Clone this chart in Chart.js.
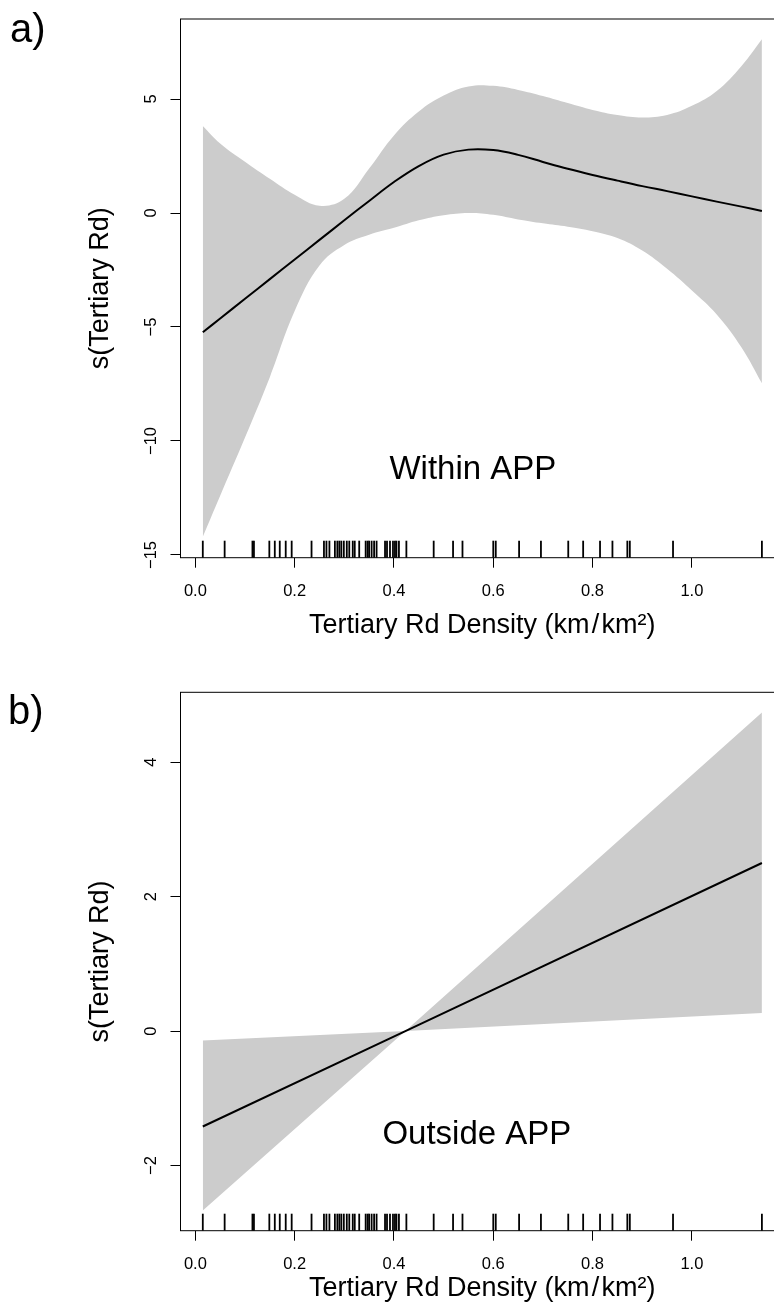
<!DOCTYPE html>
<html>
<head>
<meta charset="utf-8">
<script src="https://cdn.jsdelivr.net/npm/chart.js@4.4.0/dist/chart.umd.min.js"></script>
<style>
  html, body { margin: 0; padding: 0; background: #fff; overflow: hidden; }
  canvas { position: absolute; left: 0; }
  #chartA { top: 0; }
  #chartB { top: 673px; }
</style>
</head>
<body>
<canvas id="chartA" width="800" height="673"></canvas>
<canvas id="chartB" width="800" height="641"></canvas>
<script>
// rug: observed tertiary road densities (same sites in both panels)
const rugX = [0.015, 0.059, 0.115, 0.118, 0.149, 0.160, 0.170, 0.182, 0.194, 0.234,
  0.259, 0.264, 0.270, 0.281, 0.286, 0.290, 0.294, 0.299, 0.305, 0.310, 0.317, 0.321,
  0.330, 0.343, 0.347, 0.350, 0.355, 0.360, 0.365, 0.382, 0.386, 0.392, 0.398, 0.402,
  0.405, 0.410, 0.425, 0.480, 0.519, 0.538, 0.600, 0.605, 0.652, 0.696, 0.751, 0.781,
  0.815, 0.840, 0.870, 0.875, 0.962, 1.141];
const xTicks = [0, 0.2, 0.4, 0.6, 0.8, 1.0];
const xLimits = [-0.0299, 1.1855];

// a) Within APP
const gridA = [0.015, 0.05, 0.1, 0.15, 0.2, 0.25, 0.3, 0.35, 0.4, 0.45, 0.5, 0.55, 0.6,
  0.65, 0.7, 0.75, 0.8, 0.85, 0.9, 0.95, 1.0, 1.05, 1.1, 1.141];
const fitA = [-5.23, -4.63, -3.76, -2.90, -2.04, -1.18, -0.32, 0.53, 1.36, 2.06, 2.56,
  2.78, 2.76, 2.55, 2.24, 1.94, 1.67, 1.42, 1.18, 0.96, 0.73, 0.50, 0.28, 0.09];
const upperA = [3.82, 3.05, 2.25, 1.50, 0.80, 0.32, 0.62, 1.95, 3.40, 4.45, 5.15, 5.55,
  5.58, 5.40, 5.13, 4.82, 4.52, 4.30, 4.19, 4.30, 4.70, 5.35, 6.45, 7.62];
const lowerA = [-14.2, -12.4, -9.85, -7.2, -4.3, -2.3, -1.40, -0.95, -0.65, -0.32, -0.10,
  0.0, -0.08, -0.28, -0.45, -0.60, -0.80, -1.10, -1.65, -2.45, -3.40, -4.45, -5.9, -7.47];
const yTicksA = [-15, -10, -5, 0, 5];
const yLimitsA = [-15.12, 8.51];

// b) Outside APP
const gridB = [0.015, 0.423, 1.141];
const fitB = [-1.42, 0.0, 2.50];
const upperB = [-0.14, 0.0, 4.74];
const lowerB = [-2.67, 0.0, 0.27];
const yTicksB = [-2, 0, 2, 4];
const yLimitsB = [-2.97, 5.04];

const FONT = '"Liberation Sans", Arial, Helvetica, sans-serif';
Chart.defaults.font.family = FONT;
Chart.defaults.color = '#000';

const pts = (xs, ys) => xs.map((v, i) => ({ x: v, y: ys[i] }));
const minus = v => (v < 0 ? '\u2212' + Math.abs(v) : String(v));

// frame, rug, panel note and panel letter
const gamDecor = {
  id: 'gamDecor',
  afterDatasetsDraw(chart, args, opts) {
    const { ctx, chartArea: a, scales: { x, y } } = chart;
    ctx.save();
    ctx.strokeStyle = '#000';
    ctx.lineWidth = 1.8;
    rugX.forEach(v => {
      const px = x.getPixelForValue(v);
      ctx.beginPath();
      ctx.moveTo(px, a.bottom);
      ctx.lineTo(px, a.bottom - 17);
      ctx.stroke();
    });
    ctx.lineWidth = 1;
    ctx.strokeRect(a.left, a.top, a.right - a.left, a.bottom - a.top);
    ctx.fillStyle = '#000';
    ctx.font = '33px ' + FONT;
    ctx.textAlign = 'center';
    ctx.textBaseline = 'middle';
    ctx.fillText(opts.note, x.getPixelForValue(opts.noteAt[0]), y.getPixelForValue(opts.noteAt[1]));
    ctx.font = '40px ' + FONT;
    ctx.textAlign = 'left';
    ctx.fillText(opts.letter, opts.letterAt[0], opts.letterAt[1]);
    ctx.restore();
  }
};

function buildChart(id, cfg) {
  const line = { pointRadius: 0, tension: cfg.tension, cubicInterpolationMode: 'default' };
  return new Chart(document.getElementById(id), {
    type: 'line',
    data: {
      datasets: [
        // fitted smooth (index 0 so it is drawn on top of the band)
        { ...line, data: pts(cfg.grid, cfg.fit), fill: false, borderColor: '#000', borderWidth: 2 },
        // confidence band: upper edge filled down to the lower edge
        { ...line, data: pts(cfg.grid, cfg.upper), fill: '+1', backgroundColor: '#cccccc',
          borderColor: 'rgba(0,0,0,0)', borderWidth: 0 },
        { ...line, data: pts(cfg.grid, cfg.lower), fill: false,
          borderColor: 'rgba(0,0,0,0)', borderWidth: 0 }
      ]
    },
    options: {
      responsive: false,
      animation: false,
      devicePixelRatio: 1,
      layout: { padding: { left: 0, top: 19, right: 16, bottom: 0 } },
      plugins: {
        legend: { display: false },
        tooltip: { enabled: false },
        gamDecor: { note: cfg.note, noteAt: cfg.noteAt, letter: cfg.letter, letterAt: cfg.letterAt }
      },
      scales: {
        x: {
          type: 'linear',
          min: xLimits[0],
          max: xLimits[1],
          afterBuildTicks: ax => { ax.ticks = xTicks.map(v => ({ value: v })); },
          afterFit: ax => { ax.height = cfg.xHeight; },
          grid: { drawOnChartArea: false, drawTicks: true, tickLength: 10, tickColor: '#000', tickWidth: 1 },
          border: { display: false },
          ticks: { padding: 14, font: { size: 16.5 }, color: '#000', autoSkip: false,
            maxRotation: 0, minRotation: 0, callback: v => v.toFixed(1) },
          title: { display: true, text: 'Tertiary Rd Density (km\u200a/\u200akm\u00b2)',
            font: { size: 27 }, color: '#000', padding: { top: 0, bottom: cfg.xTitlePad } }
        },
        y: {
          type: 'linear',
          min: cfg.yLimits[0],
          max: cfg.yLimits[1],
          afterBuildTicks: ax => { ax.ticks = cfg.yTicks.map(v => ({ value: v })); },
          afterFit: ax => { ax.width = 180.5; },
          grid: { drawOnChartArea: false, drawTicks: true, tickLength: 10, tickColor: '#000', tickWidth: 1 },
          border: { display: false },
          ticks: { padding: cfg.yTickPad, font: { size: 16.5 }, color: '#000', crossAlign: 'center',
            minRotation: 90, maxRotation: 90, autoSkip: false, callback: v => minus(v) },
          title: { display: true, text: 's(Tertiary Rd)', font: { size: 27 }, color: '#000',
            padding: { top: 84, bottom: 0 } }
        }
      }
    },
    plugins: [gamDecor]
  });
}

buildChart('chartA', {
  grid: gridA, fit: fitA, upper: upperA, lower: lowerA,
  yTicks: yTicksA, yLimits: yLimitsA, tension: 0.4,
  xHeight: 115.3, xTitlePad: 31, yTickPad: 5,
  note: 'Within APP', noteAt: [0.559, -11.27],
  letter: 'a)', letterAt: [10, 31]
});

buildChart('chartB', {
  grid: gridB, fit: fitB, upper: upperB, lower: lowerB,
  yTicks: yTicksB, yLimits: yLimitsB, tension: 0,
  xHeight: 83.3, xTitlePad: 9, yTickPad: 9.4,
  note: 'Outside APP', noteAt: [0.567, -1.54],
  letter: 'b)', letterAt: [8, 40]
});
</script>
</body>
</html>
